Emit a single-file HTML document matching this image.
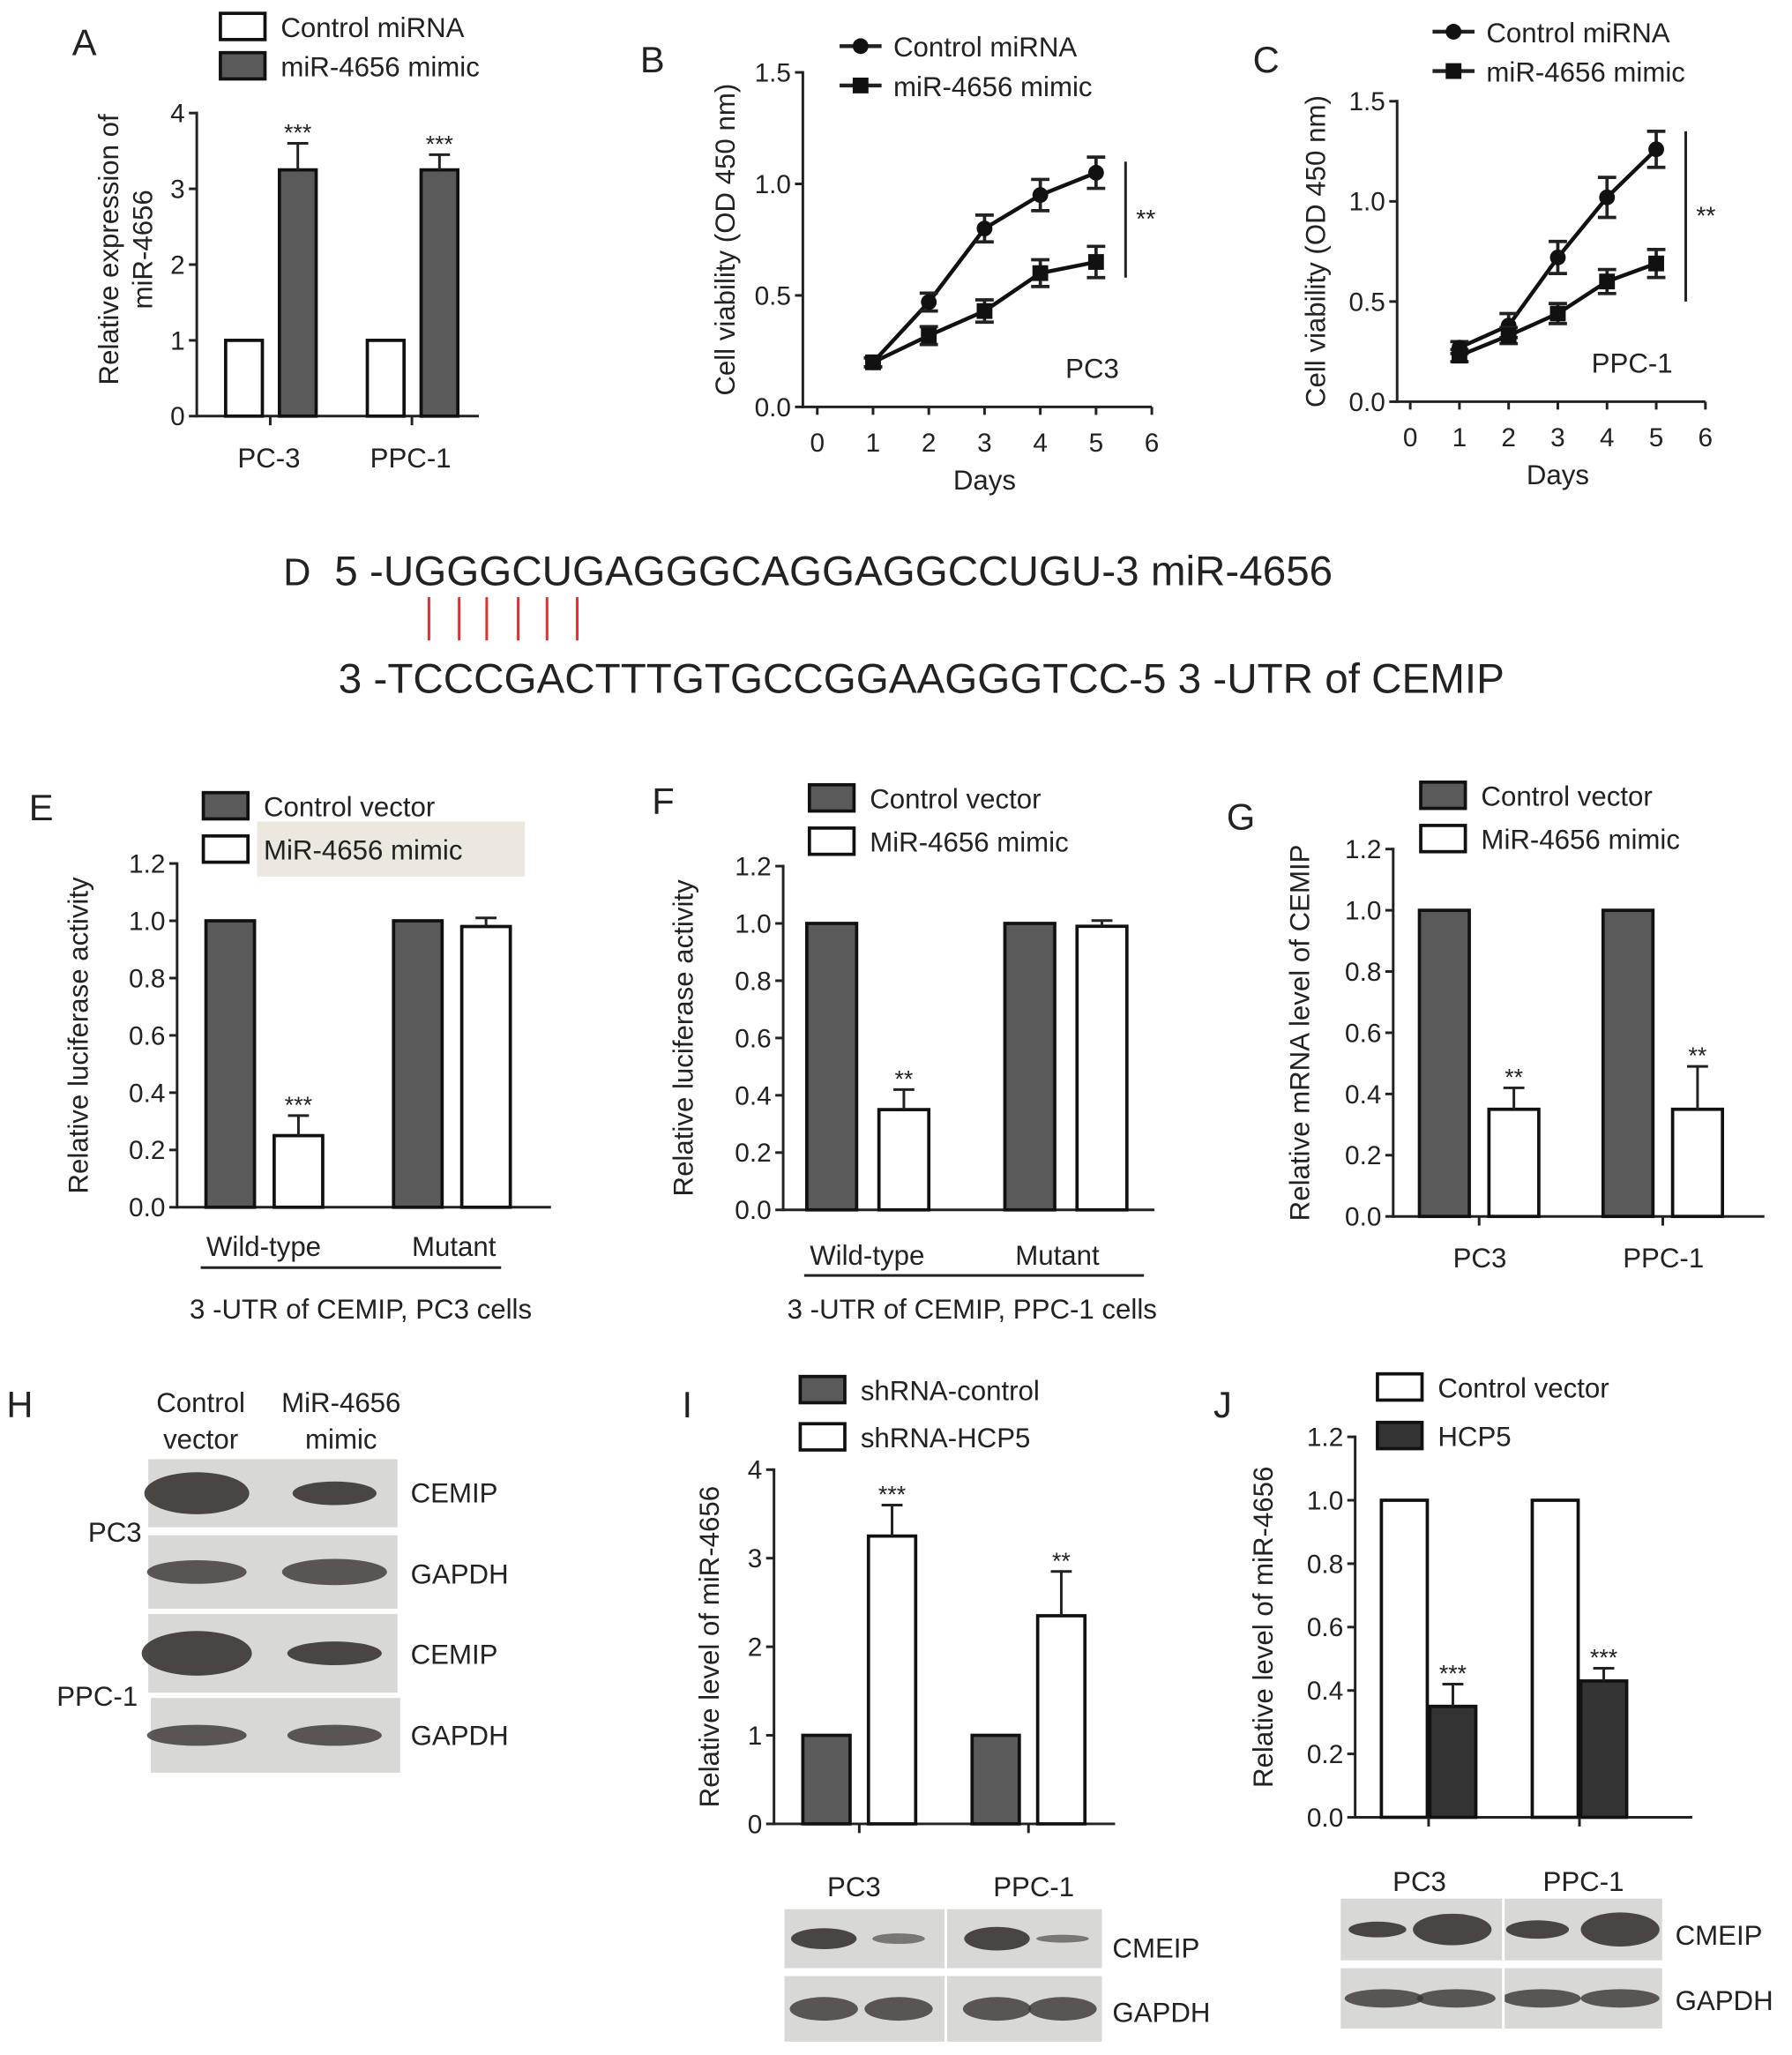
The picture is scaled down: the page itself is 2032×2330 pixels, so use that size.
<!DOCTYPE html>
<html><head><meta charset="utf-8"><style>
html,body{margin:0;padding:0;background:#fff}
svg{display:block}
text{font-family:"Liberation Sans",sans-serif;fill:#222}
</style></head><body>
<svg id="fig" width="2032" height="2330" viewBox="0 0 1366 1566" xmlns="http://www.w3.org/2000/svg"></svg>
<script>
// ---------- DATA ----------
const aCats=["PC-3","PPC-1"];const aCtrl=[1,1];const aMimic=[3.25,3.25];const aMimicErr=[0.35,0.2];const aTicks=[0,1,2,3,4];
const days=[1,2,3,4,5];const bCtrl=[0.2,0.47,0.8,0.95,1.05];const bCtrlErr=[0.02,0.04,0.06,0.07,0.07];const bMimic=[0.2,0.32,0.43,0.6,0.65];const bMimicErr=[0.02,0.04,0.05,0.06,0.07];
const cCtrl=[0.27,0.38,0.72,1.02,1.26];const cCtrlErr=[0.03,0.06,0.08,0.1,0.09];const cMimic=[0.23,0.33,0.44,0.6,0.69];const cMimicErr=[0.03,0.04,0.05,0.06,0.07];
const vTicks=[0,0.5,1.0,1.5];const dayTicks=[0,1,2,3,4,5,6];
const eCtrl=[1,1];const eMimic=[0.25,0.98];const eErr=[0.07,0.03];
const fCtrl=[1,1];const fMimic=[0.35,0.99];const fErr=[0.07,0.02];
const gCtrl=[1,1];const gMimic=[0.35,0.35];const gErr=[0.07,0.14];
const iCtrl=[1,1];const iSh=[3.25,2.35];const iErr=[0.35,0.5];
const jCtrl=[1,1];const jHcp=[0.35,0.43];const jErr=[0.07,0.04];
const lucTicks=[0,0.2,0.4,0.6,0.8,1.0,1.2];
// ---------- HELPERS ----------
const S=document.getElementById('fig');const NS='http://www.w3.org/2000/svg';
function el(t,a,p){const e=document.createElementNS(NS,t);for(const k in a)e.setAttribute(k,a[k]);(p||S).appendChild(e);return e;}
function tx(x,y,s,size,anchor,extra){const e=el('text',Object.assign({x:x,y:y,'font-size':size||18,'text-anchor':anchor||'start'},extra||{}));e.textContent=s;return e;}
function ln(x1,y1,x2,y2,w,c){return el('line',{x1,y1,x2,y2,stroke:c||'#222','stroke-width':w||2});}
function yAxis(g,x,y0,y1,vmin,vmax,ticks,fmt,title,tx0){
 const sc=v=>y0-(v-vmin)/(vmax-vmin)*(y0-y1);
 ln(x,y0+1,x,y1-1,2);
 ticks.forEach(t=>{ln(x-6,sc(t),x,sc(t),2);tx(x-9,sc(t)+7,fmt(t),20,'end');});
 tx(0,0,title,21,'middle',{transform:`translate(${tx0},${(y0+y1)/2}) rotate(-90)`});
 return sc;}
function bar(g,x,w,y0,y,fill,name){const r=el('rect',{x:x,y:y,width:w,height:y0-y,fill:fill,stroke:'#111','stroke-width':2.5});

return r;}
function err(x,y,e){ln(x,y,x,e,2);ln(x-8,e,x+8,e,2);}
function stars(x,y,s){tx(x,y+2,s,18,'middle');}
function legendBox(x,y,fill,label){el('rect',{x:x,y:y,width:34,height:20,fill:fill,stroke:'#111','stroke-width':2.5});tx(x+46,y+18,label,21);}
function panelLabel(x,y,s){tx(x,y,s,28);}
function blot(x,y,w,h,bands){el('rect',{x:x,y:y,width:w,height:h,fill:'#d8d8d6'});
 bands.forEach(b=>{el('ellipse',{cx:b[0],cy:y+h/2,rx:b[1],ry:b[2],fill:'#3a3533',opacity:b[3]||0.9});});}

// ---------- PANEL A ----------
panelLabel(55,42,'A');legendBox(168,10,'#fff','Control miRNA');legendBox(168,40,'#5a5a5a','miR-4656 mimic');
{const sA=yAxis(null,150,317,86,0,4,aTicks,v=>v,'',0);
 tx(0,0,'Relative expression of',21,'middle',{transform:'translate(90,190) rotate(-90)'});
 tx(0,0,'miR-4656',21,'middle',{transform:'translate(116,190) rotate(-90)'});
 ln(149,317,365,317,2);const cx=[172,280];
 aCats.forEach((c,i)=>{bar(0,cx[i],28,317,sA(aCtrl[i]),'#fff','bar-a-control-'+i);
  bar(0,cx[i]+41,28,317,sA(aMimic[i]),'#5a5a5a','bar-a-mimic-'+i);
  err(cx[i]+55,sA(aMimic[i]),sA(aMimic[i]+aMimicErr[i]));stars(cx[i]+55,sA(aMimic[i]+aMimicErr[i])-4,'***');
  ln(cx[i]+34,317,cx[i]+34,324,2);tx(cx[i]+33,356,c,21,'middle');});}

// ---------- LINE PANELS ----------
function linePanel(L,lx,ly,ax,x0,x6,y0,y15,ctrl,ce,mim,me,cell,sigTop,sigBot,sigX,titleX){
 panelLabel(lx,ly,L);
 const sx=d=>x0+d*(x6-x0)/6;const sy=yAxis(null,ax,y0,y15,0,1.5,vTicks,v=>v.toFixed(1),'Cell viability (OD 450 nm)',titleX);
 ln(ax-1,y0,x6,y0,2);
 dayTicks.forEach(d=>{ln(sx(d),y0,sx(d),y0+6,2);tx(sx(d),y0+34,d,20,'middle');});
 tx((x0+x6)/2,y0+63,'Days',21,'middle');
 [[ctrl,ce,'circle'],[mim,me,'square']].forEach(([v,e,sh],k)=>{
  const p=el('polyline',{points:days.map((d,i)=>sx(d)+','+sy(v[i])).join(' '),fill:'none',stroke:'#111','stroke-width':3});
  
  
  days.forEach((d,i)=>{const y=sy(v[i]);ln(sx(d),sy(v[i]+e[i]),sx(d),sy(v[i]-e[i]),2.5);ln(sx(d)-7,sy(v[i]+e[i]),sx(d)+7,sy(v[i]+e[i]),2.5);ln(sx(d)-7,sy(v[i]-e[i]),sx(d)+7,sy(v[i]-e[i]),2.5);
   if(sh==='circle')el('circle',{cx:sx(d),cy:y,r:6,fill:'#111'});else el('rect',{x:sx(d)-6,y:y-6,width:12,height:12,fill:'#111'});});});
 ln(sigX,sy(sigTop),sigX,sy(sigBot),2);tx(sigX+8,sy((sigTop+sigBot)/2)+6,'**',19);
 tx(x6-25,y0-22,cell,21,'end');
}
linePanel('B',488,55,612,623,878,310,55,bCtrl,bCtrlErr,bMimic,bMimicErr,'PC3',1.1,0.58,858,560);
ln(640,35,672,35,3);el('circle',{cx:656,cy:35,r:6,fill:'#111'});tx(681,43,'Control miRNA',21);
ln(640,65,672,65,3);el('rect',{x:650,y:59,width:12,height:12,fill:'#111'});tx(681,73,'miR-4656 mimic',21);
linePanel('C',955,55,1065,1075,1300,306,77,cCtrl,cCtrlErr,cMimic,cMimicErr,'PPC-1',1.35,0.5,1285,1010);
ln(1092,24,1124,24,3);el('circle',{cx:1108,cy:24,r:6,fill:'#111'});tx(1133,32,'Control miRNA',21);
ln(1092,54,1124,54,3);el('rect',{x:1102,y:48,width:12,height:12,fill:'#111'});tx(1133,62,'miR-4656 mimic',21);

// ---------- PANEL D ----------
tx(216,446,'D',29);tx(255,446,'5 -UGGGCUGAGGGCAGGAGGCCUGU-3  miR-4656',32);
[327,350,371,395,417,440].forEach(x=>ln(x,455,x,488,2,'#e03030'));
tx(258,528,'3 -TCCCGACTTTGTGCCGGAAGGGTCC-5  3 -UTR of CEMIP',32);

// ---------- BAR PANELS ----------
function barPanel(o){
 panelLabel(o.lx,o.ly,o.L);
 const sy=yAxis(null,o.ax,o.y0,o.y1,0,o.vmax,o.ticks,o.fmt,o.title,o.tx);
 ln(o.ax-1,o.y0,o.xend,o.y0,2);
 o.ctrl.forEach((v,i)=>{
  bar(0,o.bx[i],o.w,o.y0,sy(v),o.c1,o.id+'-ctrl-'+i);
  const x2=o.bx[i]+o.gap;bar(0,x2,o.w,o.y0,sy(o.trt[i]),o.c2,o.id+'-trt-'+i);
  const cx=x2+o.w/2;err(cx,sy(o.trt[i]),sy(o.trt[i]+o.err[i]));
  if(o.st[i])stars(cx,sy(o.trt[i]+o.err[i])-4,o.st[i]);
  if(o.tick)ln((o.bx[i]+x2+o.w)/2,o.y0,(o.bx[i]+x2+o.w)/2,o.y0+7,2);
 });
 return sy;}
const dec=v=>v.toFixed(1);
// E
el('rect',{x:196,y:626,width:204,height:42,fill:'#ece8e0'});
legendBox(155,604,'#5a5a5a','Control vector');legendBox(155,637,'#fff','MiR-4656 mimic');
barPanel({L:'E',lx:22,ly:625,ax:135,y0:920,y1:658,vmax:1.2,ticks:lucTicks,fmt:dec,title:'Relative luciferase activity',tx:67,xend:420,bx:[157,300],w:37,gap:52,ctrl:eCtrl,trt:eMimic,err:eErr,st:['***',''],c1:'#5a5a5a',c2:'#fff',id:'e'});
tx(201,957,'Wild-type',21,'middle');tx(346,957,'Mutant',21,'middle');ln(153,966,382,966,2);tx(275,1005,'3 -UTR of CEMIP, PC3 cells',21,'middle');
// F
legendBox(617,598,'#5a5a5a','Control vector');legendBox(617,631,'#fff','MiR-4656 mimic');
barPanel({L:'F',lx:497,ly:620,ax:597,y0:922,y1:660,vmax:1.2,ticks:lucTicks,fmt:dec,title:'Relative luciferase activity',tx:528,xend:880,bx:[615,766],w:38,gap:55,ctrl:fCtrl,trt:fMimic,err:fErr,st:['**',''],c1:'#5a5a5a',c2:'#fff',id:'f'});
tx(661,964,'Wild-type',21,'middle');tx(806,964,'Mutant',21,'middle');ln(613,972,872,972,2);tx(741,1005,'3 -UTR of CEMIP, PPC-1 cells',21,'middle');
// G
legendBox(1083,596,'#5a5a5a','Control vector');legendBox(1083,629,'#fff','MiR-4656 mimic');
barPanel({L:'G',lx:935,ly:632,ax:1062,y0:927,y1:647,vmax:1.2,ticks:lucTicks,fmt:dec,title:'Relative mRNA level of CEMIP',tx:998,xend:1345,bx:[1082,1222],w:38,gap:53,ctrl:gCtrl,trt:gMimic,err:gErr,st:['**','**'],c1:'#5a5a5a',c2:'#fff',id:'g',tick:true});
tx(1128,966,'PC3',21,'middle');tx(1268,966,'PPC-1',21,'middle');
// I
legendBox(610,1049,'#5a5a5a','shRNA-control');legendBox(610,1085,'#fff','shRNA-HCP5');
barPanel({L:'I',lx:520,ly:1080,ax:590,y0:1390,y1:1120,vmax:4,ticks:[0,1,2,3,4],fmt:v=>v,title:'Relative level of miR-4656',tx:548,xend:850,bx:[612,741],w:36,gap:50,ctrl:iCtrl,trt:iSh,err:iErr,st:['***','**'],c1:'#5a5a5a',c2:'#fff',id:'i',tick:true});
tx(651,1445,'PC3',21,'middle');tx(788,1445,'PPC-1',21,'middle');
// J
legendBox(1050,1047,'#fff','Control vector');legendBox(1050,1084,'#333','HCP5');
barPanel({L:'J',lx:925,ly:1080,ax:1033,y0:1385,y1:1095,vmax:1.2,ticks:lucTicks,fmt:dec,title:'Relative level of miR-4656',tx:970,xend:1290,bx:[1053,1168],w:35,gap:37,ctrl:jCtrl,trt:jHcp,err:jErr,st:['***','***'],c1:'#fff',c2:'#333',id:'j',tick:true});
tx(1082,1441,'PC3',21,'middle');tx(1207,1441,'PPC-1',21,'middle');

// ---------- H & blots ----------
tx(5,1080,'H',28);tx(153,1076,'Control',21,'middle');tx(153,1104,'vector',21,'middle');tx(260,1076,'MiR-4656',21,'middle');tx(260,1104,'mimic',21,'middle');
blot(113,1112,190,52,[[150,40,16],[255,32,9]]);blot(113,1170,190,56,[[150,38,9,0.8],[255,40,10,0.8]]);
blot(113,1230,190,60,[[150,42,17],[255,36,9]]);blot(115,1294,190,57,[[150,38,8,0.8],[255,36,8,0.8]]);
tx(108,1175,'PC3',21,'end');tx(105,1300,'PPC-1',21,'end');
tx(313,1145,'CEMIP',21);tx(313,1207,'GAPDH',21);tx(313,1268,'CEMIP',21);tx(313,1330,'GAPDH',21);
blot(598,1455,242,45,[[628,25,8],[685,20,4,0.6],[760,25,9],[810,20,3,0.6]]);blot(598,1506,242,50,[[628,26,9,0.8],[685,26,9,0.8],[760,26,9,0.8],[810,26,9,0.8]]);
ln(721,1453,721,1560,2,'#fff');tx(848,1492,'CMEIP',21);tx(848,1541,'GAPDH',21);
blot(1022,1447,245,47,[[1050,22,6],[1107,30,12],[1172,24,7],[1235,30,13]]);blot(1022,1500,245,46,[[1055,30,7,0.8],[1110,30,7,0.8],[1175,30,7,0.8],[1235,30,7,0.8]]);
ln(1146,1445,1146,1548,2,'#fff');tx(1277,1482,'CMEIP',21);tx(1277,1532,'GAPDH',21);
</script>
</body></html>
